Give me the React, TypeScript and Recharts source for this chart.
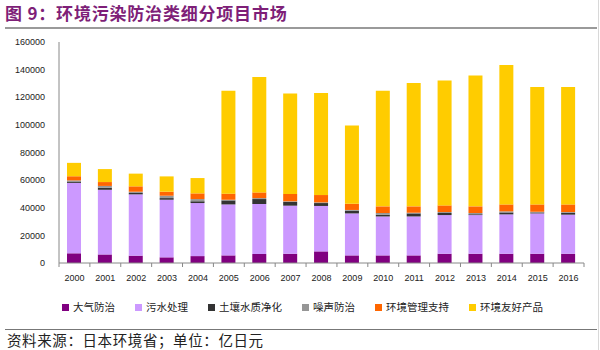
import { BarChart, Bar, XAxis, YAxis } from 'recharts';

const years = ['2000', '2001', '2002', '2003', '2004', '2005', '2006', '2007', '2008', '2009', '2010', '2011', '2012', '2013', '2014', '2015', '2016'];
const air = [7000, 6200, 5300, 4100, 5000, 5500, 6500, 6700, 8400, 5500, 5500, 5500, 6700, 6700, 6700, 6700, 6700];
const water = [51000, 46800, 44400, 41700, 38400, 36900, 36200, 34800, 32900, 30400, 28200, 28200, 28000, 28000, 28500, 29200, 28300];
const soil = [1000, 1500, 1000, 1200, 1300, 2900, 3600, 2700, 2100, 2000, 1200, 2200, 1500, 600, 1400, 700, 1400];
const noise = [800, 1300, 900, 1700, 1600, 500, 700, 500, 500, 500, 1300, 500, 700, 900, 800, 500, 500];
const mgmt = [3000, 2800, 3900, 2900, 4100, 4400, 4100, 5300, 5300, 4500, 4800, 4600, 4800, 4800, 5000, 5300, 5500];
const eco = [9700, 9400, 9200, 11100, 11100, 74500, 83600, 72800, 73900, 56700, 83700, 89300, 90500, 94800, 100900, 85000, 85000];
const yTicks = [0, 20000, 40000, 60000, 80000, 100000, 120000, 140000, 160000];

const series = [
  { key: 'air', name: '大气防治', color: '#800080' },
  { key: 'water', name: '污水处理', color: '#CC99FF' },
  { key: 'soil', name: '土壤水质净化', color: '#333333' },
  { key: 'noise', name: '噪声防治', color: '#969696' },
  { key: 'mgmt', name: '环境管理支持', color: '#FF6600' },
  { key: 'eco', name: '环境友好产品', color: '#FFCC00' },
];

const data = years.map((y, i) => ({
  year: y,
  air: air[i],
  water: water[i],
  soil: soil[i],
  noise: noise[i],
  mgmt: mgmt[i],
  eco: eco[i],
}));

const axisFont = 'Arial, "Liberation Sans", sans-serif';
const cjkFont = '"Noto Sans CJK SC", sans-serif';

function YearTick(props: any) {
  const { x, y, payload, index } = props;
  const half = payload.offset || 0;
  return (
    <g>
      <line x1={x - half} x2={x - half} y1={y - 8} y2={y - 4} stroke="#888" />
      {index === years.length - 1 && <line x1={x + half} x2={x + half} y1={y - 8} y2={y - 4} stroke="#888" />}
      <text x={x} y={y + 8} textAnchor="middle" dominantBaseline="middle" fontSize={9} fill="#222" fontFamily={axisFont}>
        {payload.value}
      </text>
    </g>
  );
}

export default function App() {
  return (
    <div style={{ position: 'absolute', left: 0, top: 0, width: 600, height: 350, background: '#fff', overflow: 'hidden' }}>
      <div
        style={{
          position: 'absolute',
          left: 5,
          top: 2,
          fontFamily: cjkFont,
          fontSize: 17,
          fontWeight: 700,
          letterSpacing: 0.8,
          color: '#7E1F78',
          lineHeight: '22px',
          whiteSpace: 'nowrap',
        }}
      >
        图 9：环境污染防治类细分项目市场
      </div>
      <div style={{ position: 'absolute', left: 5, top: 27, width: 592, height: 2, background: '#9a9a9a' }} />
      <div style={{ position: 'absolute', left: 598, top: 0, width: 1, height: 350, background: '#d8d8d8' }} />

      <div style={{ position: 'absolute', left: 0, top: 30 }}>
        <BarChart width={600} height={300} data={data} margin={{ top: 12, right: 16, bottom: 0, left: 0 }} barSize={14}>
          <YAxis
            width={59}
            domain={[0, 160000]}
            ticks={yTicks}
            interval={0}
            tickLine={false}
            axisLine={{ stroke: '#888' }}
            tick={{ fontSize: 9, fill: '#222', fontFamily: axisFont }}
            tickMargin={8}
          />
          <XAxis
            dataKey="year"
            height={67}
            interval={0}
            tickLine={false}
            axisLine={{ stroke: '#888' }}
            tick={<YearTick />}
          />
          {series.map((s) => (
            <Bar key={s.key} dataKey={s.key} name={s.name} stackId="a" fill={s.color} isAnimationActive={false} />
          ))}
        </BarChart>
      </div>

      <div
        style={{
          position: 'absolute',
          left: 62,
          top: 300,
          display: 'flex',
          alignItems: 'center',
          gap: 20,
          fontFamily: cjkFont,
          fontSize: 10.5,
          lineHeight: '14px',
          color: '#222',
          whiteSpace: 'nowrap',
        }}
      >
        {series.map((s) => (
          <div key={s.key} style={{ display: 'flex', alignItems: 'center', gap: 4 }}>
            <div style={{ width: 7, height: 7, background: s.color }} />
            <span>{s.name}</span>
          </div>
        ))}
      </div>

      <div style={{ position: 'absolute', left: 5, top: 329, width: 592, height: 1, background: '#777' }} />
      <div
        style={{
          position: 'absolute',
          left: 7,
          top: 331,
          fontFamily: cjkFont,
          fontSize: 14.5,
          letterSpacing: 0.6,
          color: '#222',
          lineHeight: '18px',
          whiteSpace: 'nowrap',
        }}
      >
        资料来源：日本环境省；单位：亿日元
      </div>
    </div>
  );
}
